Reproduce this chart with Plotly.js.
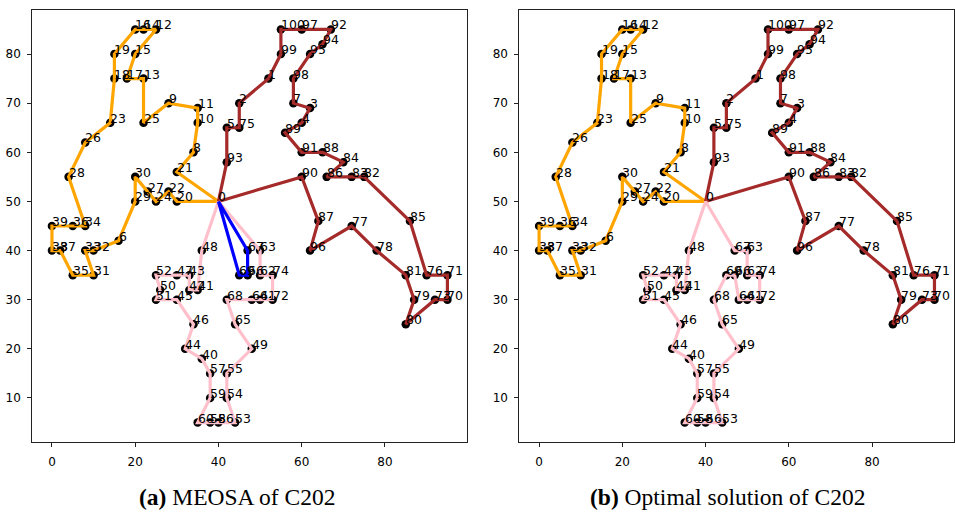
<!DOCTYPE html>
<html>
<head>
<meta charset="utf-8">
<script src="https://cdn.plot.ly/plotly-3.0.1.min.js"></script>
<style>
  html, body { margin: 0; padding: 0; background: #ffffff; }
  #chart { width: 955px; height: 517px; }
</style>
</head>
<body>
<div id="chart"></div>
<script>
// Node coordinates (index = node id, 0 = depot)
const nodeX = [40,52,45,62,60,42,16,58,34,28,35,35,25,22,22,20,20,18,15,15,
  30,30,28,14,25,22,8,23,4,20,20,10,10,8,8,5,5,2,0,0,
  36,35,33,33,32,30,34,30,36,48,26,25,25,44,42,42,40,38,38,38,
  35,50,50,50,48,44,47,47,42,45,95,95,53,92,53,45,90,72,78,87,
  85,85,75,72,70,86,66,64,65,56,60,60,67,42,65,62,62,60,58,55,55];
const nodeY = [50,75,70,69,66,65,42,70,60,70,66,69,85,75,85,80,85,75,75,80,
  50,56,52,66,50,66,62,52,55,50,55,35,40,40,45,35,45,40,40,45,
  18,32,32,35,20,30,25,35,40,20,32,30,35,5,10,15,5,15,5,10,
  5,30,35,40,30,25,35,40,30,35,30,35,30,30,35,65,35,45,40,30,
  25,35,55,55,58,46,55,46,60,64,55,60,85,58,82,80,40,85,75,80,85];

// Routes (sequences of node ids)
const routeOrange = [0,21,8,10,11,9,25,13,17,15,12,14,16,19,18,23,26,28,34,36,39,38,37,35,31,33,32,6,29,30,27,24,22,20,0];
const routeBrown = [0,93,5,75,2,1,99,100,97,92,94,95,98,7,3,4,89,91,88,84,86,83,82,85,76,71,70,73,80,79,81,78,77,96,87,90,0];
const routePinkA = [0,63,62,74,72,61,64,68,65,49,55,54,53,56,58,60,59,57,40,44,46,45,51,50,52,47,43,42,41,48,0];
const routeBlueA = [0,67,66,69,0];
const routePinkB = [0,48,41,42,43,47,52,50,51,45,46,44,40,57,59,60,58,56,53,54,55,49,65,68,69,66,64,61,72,74,62,63,67,0];

const panelA = [[routeOrange,'#FFA500'],[routeBrown,'#A52A2A'],[routePinkA,'#FFC0CB'],[routeBlueA,'#0000FF']];
const panelB = [[routeOrange,'#FFA500'],[routeBrown,'#A52A2A'],[routePinkB,'#FFC0CB']];

const panelTitles = ['<b>(a)</b> MEOSA of C202', '<b>(b)</b> Optimal solution of C202'];
const xTicks = [0,20,40,60,80];
const yTicks = [10,20,30,40,50,60,70,80];

const traces = [];
const annotations = [];
function buildPanel(routes, xa, ya) {
  const custX = nodeX.slice(1), custY = nodeY.slice(1);
  traces.push({x: custX, y: custY, xaxis: xa, yaxis: ya, mode: 'markers', type: 'scatter',
    marker: {color: '#000000', size: 8.5}, hoverinfo: 'skip', showlegend: false});
  routes.forEach(([r, c]) => {
    traces.push({x: r.map(i => nodeX[i]), y: r.map(i => nodeY[i]), xaxis: xa, yaxis: ya,
      mode: 'lines', type: 'scatter', line: {color: c, width: 3.2}, hoverinfo: 'skip', showlegend: false});
  });
  nodeX.forEach((x, i) => {
    annotations.push({x: x, y: nodeY[i], xref: xa, yref: ya, text: String(i), showarrow: false,
      xanchor: 'left', yanchor: 'bottom', xshift: -1, yshift: -4, borderpad: 0,
      font: {family: 'DejaVu Sans', size: 12.5, color: '#000000'}});
  });
}
buildPanel(panelA, 'x', 'y');
buildPanel(panelB, 'x2', 'y2');

annotations.push({x: 0.249, y: 0.038, xref: 'paper', yref: 'paper', text: panelTitles[0], showarrow: false,
  xanchor: 'center', yanchor: 'middle', font: {family: 'Liberation Serif', size: 23.5, color: '#000'}});
annotations.push({x: 0.762, y: 0.038, xref: 'paper', yref: 'paper', text: panelTitles[1], showarrow: false,
  xanchor: 'center', yanchor: 'middle', font: {family: 'Liberation Serif', size: 23.5, color: '#000'}});

const axisCommon = {showgrid: false, zeroline: false, showline: true, mirror: true, linecolor: '#222', linewidth: 1,
  ticks: 'outside', ticklen: 4, tickcolor: '#222', ticklabelstandoff: 4,
  tickfont: {family: 'DejaVu Sans', size: 12, color: '#000'}, fixedrange: true};

const layout = {
  width: 955, height: 517,
  margin: {l: 0, r: 0, t: 0, b: 0},
  paper_bgcolor: '#ffffff', plot_bgcolor: '#ffffff',
  showlegend: false,
  xaxis: Object.assign({}, axisCommon, {domain: [0.0337, 0.4892], range: [-4.75, 99.75], tickvals: xTicks, anchor: 'y'}),
  yaxis: Object.assign({}, axisCommon, {domain: [0.1447, 0.981], range: [1, 89], tickvals: yTicks, anchor: 'x'}),
  xaxis2: Object.assign({}, axisCommon, {domain: [0.5438, 0.9992], range: [-4.75, 99.75], tickvals: xTicks, anchor: 'y2'}),
  yaxis2: Object.assign({}, axisCommon, {domain: [0.1447, 0.981], range: [1, 89], tickvals: yTicks, anchor: 'x2'}),
  annotations: annotations
};

Plotly.newPlot('chart', traces, layout, {displayModeBar: false, staticPlot: true});
</script>
</body>
</html>
